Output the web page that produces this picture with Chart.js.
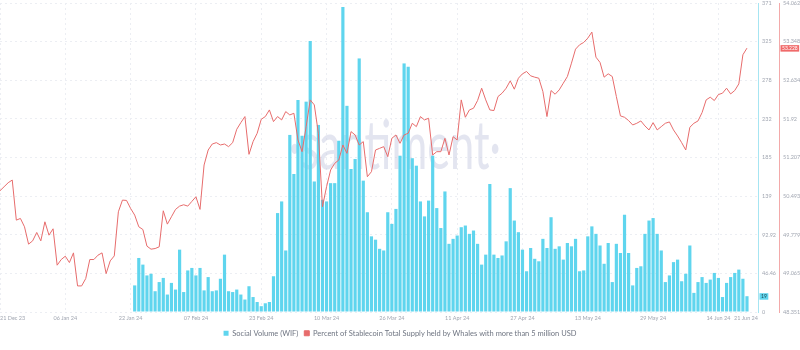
<!DOCTYPE html>
<html>
<head>
<meta charset="utf-8">
<script src="https://cdn.jsdelivr.net/npm/chart.js@4.4.1/dist/chart.umd.min.js"></script>
<style>
  html, body { margin: 0; padding: 0; background: #fff; }
  canvas { display: block; }
</style>
</head>
<body>
<canvas id="chart" width="800" height="350"></canvas>
<script>
const FONT = 'Lato, "Open Sans", sans-serif';
const MONTHS = ['Jan', 'Feb', 'Mar', 'Apr', 'May', 'Jun', 'Jul', 'Aug', 'Sep', 'Oct', 'Nov', 'Dec'];

// daily series, first day 21 Dec 23
const firstDay = Date.UTC(2023, 11, 21);
const volumeFirstDate = '23 Jan 24';
const xTickLabels = ['21 Dec 23', '06 Jan 24', '22 Jan 24', '07 Feb 24', '23 Feb 24', '10 Mar 24', '26 Mar 24',
  '11 Apr 24', '27 Apr 24', '13 May 24', '29 May 24', '14 Jun 24'];

// Social Volume (WIF), one bar per day
const socialVolume = [
  32, 65, 57, 44, 46, 25, 36, 41, 21, 35, 27, 75, 24, 50, 53, 44, 53, 26, 42, 25,
  26, 40, 69, 25, 24, 27, 21, 15, 31, 18, 12, 7, 10.5, 12, 43, 119, 133, 74, 213, 166,
  255, 212, 253, 326, 157, 225, 135, 133, 155, 155, 206, 367, 248,
  172, 184, 305, 158, 120, 91, 87, 76, 74, 120, 106, 124, 188, 299, 295, 185, 176, 133, 115, 134,
  188, 125, 101, 145, 82, 88, 92, 102, 104, 94, 98, 82,
  57, 69, 154, 69, 65, 68, 85, 149, 110, 96, 75, 49, 77, 64, 61, 88, 77, 114, 76, 79,
  63, 83, 79, 88, 49, 50, 91, 103, 94, 80, 58, 83, 36, 82, 71, 117, 71, 32, 53, 55,
  94, 110, 113, 94, 74, 36, 44, 60, 63, 37, 46, 80, 23, 36, 42, 35, 39, 47, 41, 18,
  35, 42, 47, 51, 40, 19
];

// % of stablecoin supply held by whales (> 5M USD), one point per day
const whalePercent = [
  50.592, 50.666, 50.740, 50.790, 50.049, 50.080, 49.926, 49.605, 49.666, 49.821,
  49.666, 50.018, 49.771, 49.889, 49.216, 49.321, 49.382, 49.265, 49.444, 48.833,
  48.833, 48.969, 49.321, 49.321, 49.401, 49.444, 49.061, 49.296, 49.388, 50.203,
  50.419, 50.413, 50.265, 50.142, 49.926, 49.876, 49.568, 49.512, 49.524, 49.555,
  50.222, 49.975, 50.111, 50.247, 50.308, 50.333, 50.308, 50.395, 50.481, 50.247,
  51.068, 51.345, 51.456, 51.481, 51.438, 51.456, 51.407, 51.481, 51.728, 51.851,
  51.963, 51.265, 51.500, 51.654, 51.913, 51.963, 52.086, 51.870, 51.963, 51.901,
  52.055, 51.993, 52.024, 51.530, 51.314, 51.777, 52.271, 52.179, 51.654, 50.296,
  50.666, 50.975, 51.098, 51.160, 51.438, 51.284, 51.685, 51.623, 51.438, 51.500,
  50.851, 50.944, 51.345, 51.376, 51.407, 51.222, 51.561, 51.623, 51.469, 51.623,
  51.654, 51.839, 51.777, 51.963, 51.901, 51.932, 51.253, 51.314, 51.314, 51.561,
  51.253, 51.592, 51.530, 52.271, 51.950, 52.086, 52.117, 52.259, 52.487, 52.271,
  52.086, 52.074, 52.333, 52.395, 52.487, 52.623, 52.469, 52.672, 52.753, 52.796,
  52.716, 52.691, 52.672, 52.426, 51.963, 52.444, 52.376, 52.456, 52.580, 52.703,
  52.950, 53.209, 53.290, 53.333, 53.413, 53.524, 53.061, 52.963, 52.691, 52.753,
  52.703, 52.333, 51.975, 51.950, 51.889, 51.808, 51.839, 51.882, 51.790, 51.716,
  51.851, 51.716, 51.777, 51.839, 51.864, 51.716, 51.605, 51.481, 51.345, 51.765,
  51.839, 51.882, 52.037, 52.271, 52.321, 52.259, 52.370, 52.395, 52.487, 52.382,
  52.444, 52.567, 53.105, 53.228
];

const volumeTicks = [0, 46.46, 92.92, 139.38, 185.84, 232.3, 278.76, 325.22, 371.68];
const percentTicks = [48.351, 49.065, 49.779, 50.493, 51.207, 51.92, 52.634, 53.348, 54.062];

const VOLUME_COLOR = '#5fd5ee';
const PERCENT_COLOR = '#e76c6c';
const GRID_COLOR = '#eceef3';
const TICK_COLOR = '#a2a7b2';

function fmtDate(ms) {
  const d = new Date(ms);
  return `${String(d.getUTCDate()).padStart(2, '0')} ${MONTHS[d.getUTCMonth()]} ${String(d.getUTCFullYear()).slice(2)}`;
}
const dates = whalePercent.map((_, i) => fmtDate(firstDay + i * 864e5));
const lastDay = dates.length - 1;
const xMax = lastDay + 2.7; // small gap before the right axes
const volumeStart = dates.indexOf(volumeFirstDate);
const xTickDays = xTickLabels.map(label => dates.indexOf(label));

function volumeLabel(v) { return v >= 100 ? String(Math.floor(v)) : String(+v.toFixed(2)); }

// faint brand text behind the bars
const watermark = {
  id: 'watermark',
  beforeDatasetsDraw(chart) {
    const { ctx, chartArea: a } = chart;
    const text = '·santiment·';
    ctx.save();
    ctx.font = `400 68px ${FONT}`;
    const w = ctx.measureText(text).width;
    ctx.translate(a.left + a.width * 0.521, a.top + a.height * 0.538);
    ctx.scale(212 / w, 1);
    ctx.fillStyle = 'rgba(200,203,226,0.5)';
    ctx.textAlign = 'center';
    ctx.textBaseline = 'alphabetic';
    ctx.fillText(text, 0, 0);
    ctx.restore();
  }
};

// latest-value tags sitting on each right axis
function tag(ctx, x, y, text, fill, color) {
  ctx.font = `5px ${FONT}`;
  const w = ctx.measureText(text).width + 3;
  ctx.fillStyle = fill;
  ctx.fillRect(x, y - 3, w, 6.5);
  ctx.fillStyle = color;
  ctx.textAlign = 'left';
  ctx.textBaseline = 'middle';
  ctx.fillText(text, x + 1.5, y + 0.3);
}
const lastValues = {
  id: 'lastValues',
  afterDraw(chart) {
    const { ctx, scales } = chart;
    const vol = socialVolume[socialVolume.length - 1];
    const pct = whalePercent[whalePercent.length - 1];
    ctx.save();
    tag(ctx, scales.yVol.left + 1.5, scales.yVol.getPixelForValue(vol), String(vol), VOLUME_COLOR, '#1f4750');
    tag(ctx, scales.yPct.left + 1.5, scales.yPct.getPixelForValue(pct), pct.toFixed(3), '#f06a6a', '#ffffff');
    ctx.restore();
  }
};

new Chart(document.getElementById('chart'), {
  type: 'bar',
  data: {
    datasets: [
      {
        type: 'bar',
        label: 'Social Volume (WIF)',
        data: socialVolume.map((v, i) => ({ x: volumeStart + i, y: v })),
        yAxisID: 'yVol',
        backgroundColor: VOLUME_COLOR,
        borderWidth: 0,
        barPercentage: 0.78,
        categoryPercentage: 1,
        order: 1
      },
      {
        type: 'line',
        label: 'Percent of Stablecoin Total Supply held by Whales with more than 5 million USD',
        data: whalePercent.map((v, i) => ({ x: i, y: v })),
        yAxisID: 'yPct',
        borderColor: PERCENT_COLOR,
        backgroundColor: PERCENT_COLOR,
        borderWidth: 1,
        pointRadius: 0,
        tension: 0,
        order: 0
      }
    ]
  },
  options: {
    responsive: false,
    animation: false,
    layout: { padding: { top: 3, bottom: 3, left: 0, right: 0 } },
    plugins: {
      tooltip: { enabled: false },
      legend: {
        position: 'bottom',
        labels: {
          boxWidth: 5, boxHeight: 5, padding: 6, color: '#6f7582',
          font: { family: FONT, size: 7.5 },
          sort: (a, b) => a.datasetIndex - b.datasetIndex
        }
      }
    },
    scales: {
      x: {
        type: 'linear',
        offset: false,
        min: 0,
        max: xMax,
        grid: { color: GRID_COLOR, drawTicks: false, offset: false },
        border: { display: false, dash: [2, 3] },
        ticks: {
          color: TICK_COLOR, font: { family: FONT, size: 5.5 }, padding: 3,
          maxRotation: 0, autoSkip: false, align: 'inner',
          // the closing date is pinned to the right edge of the plot
          callback: v => (v === xMax ? dates[lastDay] : dates[v])
        },
        afterBuildTicks: s => { s.ticks = [...xTickDays, xMax].map(v => ({ value: v })); },
        afterFit: s => { s.height = 11.5; s.paddingLeft = 0; s.paddingRight = 0; }
      },
      yVol: {
        type: 'linear',
        position: 'right',
        weight: 0,
        min: volumeTicks[0],
        max: volumeTicks[volumeTicks.length - 1],
        grid: { color: GRID_COLOR, drawTicks: false },
        border: { color: '#a6e5f2', dash: [2, 3] },
        ticks: { color: TICK_COLOR, font: { family: FONT, size: 5.5 }, padding: 4, callback: v => volumeLabel(v) },
        afterBuildTicks: s => { s.ticks = volumeTicks.map(v => ({ value: v })); },
        afterFit: s => { s.width = 21; s.paddingTop = 0; s.paddingBottom = 0; }
      },
      yPct: {
        type: 'linear',
        position: 'right',
        weight: 1,
        min: percentTicks[0],
        max: percentTicks[percentTicks.length - 1],
        grid: { display: false, drawTicks: false },
        border: { color: '#f3a9a9' },
        ticks: { color: TICK_COLOR, font: { family: FONT, size: 5.5 }, padding: 4, callback: v => String(+v.toFixed(3)) },
        afterBuildTicks: s => { s.ticks = percentTicks.map(v => ({ value: v })); },
        afterFit: s => { s.width = 21; s.paddingTop = 0; s.paddingBottom = 0; }
      }
    }
  },
  plugins: [watermark, lastValues]
});
</script>
</body>
</html>
